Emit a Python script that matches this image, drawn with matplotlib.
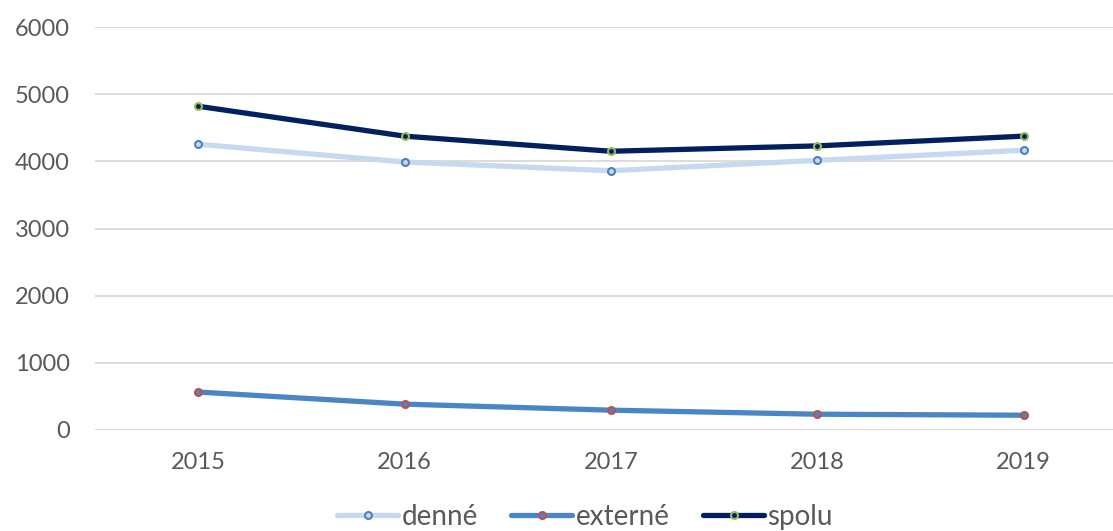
import matplotlib
matplotlib.use("Agg")
import matplotlib.pyplot as plt

years = ["2015", "2016", "2017", "2018", "2019"]
denne = [4255, 3990, 3860, 4015, 4165]
externe = [565, 385, 295, 235, 220]
spolu = [4820, 4375, 4150, 4230, 4375]
yticks = [0, 1000, 2000, 3000, 4000, 5000, 6000]

plt.rcParams['font.family'] = ['Lato', 'DejaVu Sans']
W, H = 1113, 531
fig = plt.figure(figsize=(W / 100, H / 100), dpi=100)
ax = fig.add_axes([95 / W, 1 - 430 / H, (1127 - 95) / W, (430 - 27) / H])

x = list(range(len(years)))
series = [
    (denne, "denné", "#c6d9f1", "#4f81bd", "#c6d9f1"),
    (externe, "externé", "#4a86c5", "#c0504d", "#4a86c5"),
    (spolu, "spolu", "#002060", "#9bbb59", "#002060"),
]
for vals, lab, lc, mec, mfc in series:
    ax.plot(x, vals, color=lc, lw=3.8, marker="o", ms=5, mec=mec, mfc=mfc,
            mew=1.5, label=lab, solid_capstyle="round")

ax.set_xlim(-0.5, 4.5)
ax.set_ylim(0, 6000)
ax.set_yticks(yticks)
ax.set_yticklabels([str(v) for v in yticks])
ax.set_xticks(x)
ax.set_xticklabels(years)
ax.grid(axis="y", color="#d9d9d9", lw=1.3)
ax.set_axisbelow(True)
for s in ax.spines.values():
    s.set_visible(False)
ax.tick_params(axis="both", length=0, labelsize=17, labelcolor="#595959")
ax.tick_params(axis="y", pad=18)
ax.tick_params(axis="x", pad=16)

leg = fig.legend(loc="center", bbox_to_anchor=(585 / W, 1 - 517 / H), ncol=3,
                 frameon=False, fontsize=20, handlelength=2.2, handletextpad=0.12,
                 columnspacing=1.2, labelcolor="#595959")
fig.savefig("out.png", dpi=100)
